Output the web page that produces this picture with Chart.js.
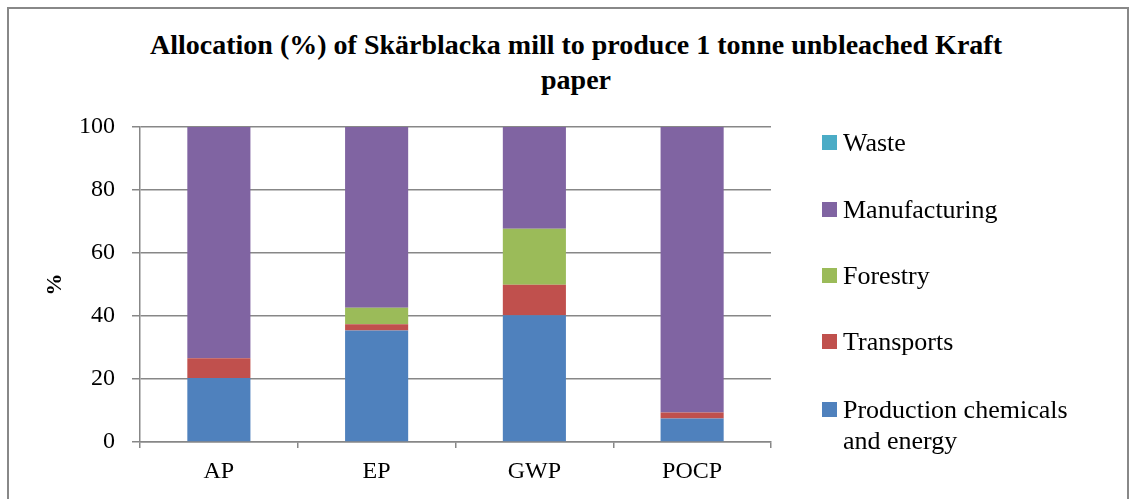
<!DOCTYPE html>
<html>
<head>
<meta charset="utf-8">
<script src="https://cdn.jsdelivr.net/npm/chart.js@4.4.0/dist/chart.umd.min.js"></script>
<style>
  html, body { margin: 0; padding: 0; background: #fff; overflow: hidden; }
  #wrap { position: relative; width: 1134px; height: 499px; }
  #frame { position: absolute; left: 7px; top: 7px; width: 1122px; height: 520px; border: 2px solid #888; box-sizing: border-box; }
  #chartBox { position: absolute; left: 0; top: 0; width: 1134px; height: 499px; }
  #title { position: absolute; left: 76px; width: 1000px; top: 27px; text-align: center;
    font: bold 28px 'Liberation Serif', serif; line-height: 35px; color: #000; }
  .leg { position: absolute; left: 822px; font: 26px 'Liberation Serif', serif; line-height: 31px; color: #000; }
  .leg i { position: absolute; left: 0; width: 15px; height: 15px; }
  .leg span { position: absolute; left: 21px; white-space: nowrap; }
</style>
</head>
<body>
<div id="wrap">
  <div id="frame"></div>
  <div id="title">Allocation (%) of Skärblacka mill to produce 1 tonne unbleached Kraft<br>paper</div>
  <div id="chartBox"><canvas id="chart" width="1134" height="499"></canvas></div>
  <div id="legend"></div>
</div>
<script>
/* Allocation chart */
const categories = ['AP', 'EP', 'GWP', 'POCP'];
const seriesNames = ['Production chemicals\nand energy', 'Transports', 'Forestry', 'Manufacturing', 'Waste'];
const production = [20.3, 35.4, 40.2, 7.5];
const transports = [6.3, 2.0, 9.7, 1.9];
const forestry = [0, 5.2, 17.8, 0];
const manufacturing = [73.4, 57.4, 32.3, 90.6];
const waste = [0, 0, 0, 0];
const yTicks = [0, 20, 40, 60, 80, 100];
const colors = ['#4F81BD', '#C0504D', '#9BBB59', '#8064A2', '#4BACC6'];

const values = [production, transports, forestry, manufacturing, waste];
const datasets = seriesNames.map((name, i) => ({
  label: name,
  data: values[i],
  backgroundColor: colors[i],
  borderWidth: 0,
  barPercentage: 0.4,
  categoryPercentage: 1.0,
}));

const axisGray = '#878787';
const serif = "'Liberation Serif', serif";

new Chart(document.getElementById('chart').getContext('2d'), {
  type: 'bar',
  data: { labels: categories, datasets },
  options: {
    responsive: false,
    animation: false,
    maintainAspectRatio: false,
    layout: { padding: { top: 127, right: 363, left: 0, bottom: 0 } },
    plugins: { legend: { display: false }, tooltip: { enabled: false } },
    scales: {
      x: {
        stacked: true,
        afterFit: s => { s.height = 57; },
        grid: { display: true, drawOnChartArea: false, offset: true, tickLength: 6, color: axisGray, lineWidth: 1.5 },
        border: { color: axisGray, width: 1.5 },
        ticks: { color: '#000', padding: 9, font: { family: serif, size: 24 } },
      },
      y: {
        stacked: true,
        min: 0,
        max: 100,
        afterFit: s => { s.width = 140; },
        afterBuildTicks: s => { s.ticks = yTicks.map(v => ({ value: v })); },
        grid: { color: axisGray, lineWidth: 1.5, tickLength: 8 },
        border: { color: axisGray, width: 1.5 },
        ticks: { color: '#000', padding: 17, font: { family: serif, size: 24 } },
        title: { display: true, text: '%', color: '#000', padding: { top: 42 }, font: { family: serif, size: 22, weight: 'bold' } },
      },
    },
  },
});

// legend, top entry first (reverse of stacking order)
const legendY = [127, 194, 260, 326, 394];
const legend = document.getElementById('legend');
seriesNames.slice().reverse().forEach((name, k) => {
  const i = seriesNames.length - 1 - k;
  const item = document.createElement('div');
  item.className = 'leg';
  item.style.top = legendY[k] + 'px';
  item.innerHTML = `<i style="background:${colors[i]};top:8px"></i><span>${name.replace('\n', '<br>')}</span>`;
  legend.appendChild(item);
});
</script>
</body>
</html>
